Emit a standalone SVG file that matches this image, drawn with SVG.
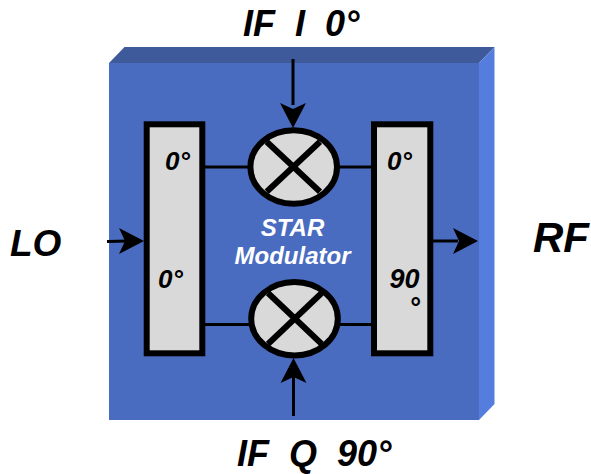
<svg xmlns="http://www.w3.org/2000/svg" width="591" height="474" viewBox="0 0 591 474">
<style>
text{font-family:"Liberation Sans",Arial,sans-serif;font-weight:bold;font-style:italic;fill:#000;white-space:pre}
.box{fill:#d9d9d9;stroke:#000;stroke-width:6}
.x{fill:none;stroke:#000;stroke-width:6}
.w{fill:none;stroke:#000;stroke-width:3}
.d{font-size:26px}
.l{font-size:36px}
.s{font-size:24px;fill:#fff;text-anchor:middle}
</style>
<defs>
<path id="head" d="M0 0L-25 -13L-19 0L-25 13Z" fill="#000"/>
</defs>
<g id="chassis">
<polygon points="109,63 124.500,47 494.500,47 479,63" fill="#3e5a9b"/>
<polygon points="479,63 494.500,47 494.500,404 479,420" fill="#557ddd"/>
<rect x="109" y="63" width="370" height="357" fill="#4a6cc0"/>
</g>
<g id="connectors">
<path class="w" d="M205 167H248M339 167H372M205 324.500H249M340 324.500H372"/>
<path class="w" d="M293 59V105M293.500 416V372M107 241.500L128 241M433 241H458"/>
<use href="#head" transform="translate(293 128) rotate(90)"/>
<use href="#head" transform="translate(293.500 358) rotate(-90)"/>
<use href="#head" transform="translate(144 241)"/>
<use href="#head" transform="translate(478 241)"/>
</g>
<g id="splitter">
<rect class="box" x="146.700" y="124.300" width="55.600" height="229"/>
<text class="d" x="165" y="170">0°</text>
<text class="d" x="158" y="288">0°</text>
</g>
<g id="combiner">
<rect class="box" x="374" y="124.300" width="56.300" height="229"/>
<text class="d" x="387" y="170">0°</text>
<text class="d" x="389.500" y="288" style="font-size:27px">90</text>
<text class="d" x="409" y="317" style="font-size:27px">°</text>
</g>
<g id="mixer-i">
<ellipse class="box" cx="293.700" cy="167" rx="43.300" ry="36.700"/>
<path class="x" d="M266.700 141.700L320 191.700M320 141.700L266.700 191.700"/>
</g>
<g id="mixer-q">
<ellipse class="box" cx="294.500" cy="318.700" rx="43.300" ry="36.700"/>
<path class="x" d="M268 293L321.700 344M321.700 293L268 344"/>
</g>
<g id="labels">
<text class="s" x="292.500" y="236">STAR</text>
<text class="s" x="292.500" y="264">Modulator</text>
<text class="l" x="243" y="36">IF  I  0°</text>
<text class="l" x="237" y="466">IF  Q  90°</text>
<text class="l" x="10" y="256" style="font-size:37px">LO</text>
<text class="l" x="533" y="252" style="font-size:42px">RF</text>
</g>
</svg>
